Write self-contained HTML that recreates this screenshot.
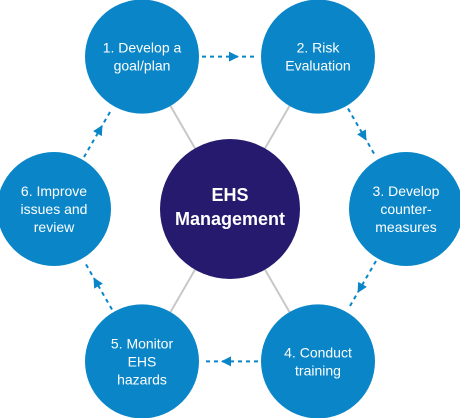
<!DOCTYPE html>
<html><head><meta charset="utf-8"><style>
body{margin:0;background:#fff;}
svg{display:block;font-family:"Liberation Sans",sans-serif;}
</style></head><body>
<svg width="460" height="418" viewBox="0 0 460 418">
<g id="spokes"></g>
<g id="arrows"></g>
<g id="nodes"></g>
<circle cx="230" cy="209" r="70" fill="#261a6e"/>
<text x="230" y="201" fill="#fff" font-size="18" font-weight="bold" text-anchor="middle">EHS</text>
<text x="230" y="225" fill="#fff" font-size="18" font-weight="bold" text-anchor="middle">Management</text>
</svg>
<script>
const steps=[["1. Develop a","goal/plan"],["2. Risk","Evaluation"],["3. Develop","counter-","measures"],["4. Conduct","training"],["5. Monitor","EHS","hazards"],["6. Improve","issues and","review"]];
const angles=[-120,-60,0,60,120,180];
const NS="http://www.w3.org/2000/svg";
const cx=230,cy=209,D=176,R=57;
const pos=angles.map(a=>[cx+D*Math.cos(a*Math.PI/180),cy+D*Math.sin(a*Math.PI/180)]);
function mk(t,at,parent){const e=document.createElementNS(NS,t);for(const k in at)e.setAttribute(k,at[k]);document.getElementById(parent).appendChild(e);return e;}
pos.forEach((p,i)=>{
  if(angles[i]!==0&&angles[i]!==180){
    const l=mk('line',{x1:cx,y1:cy,x2:p[0],y2:p[1],stroke:'#c8c8c8','stroke-width':2},'spokes');
    
    
  }
  const q=pos[(i+1)%6];
  const dx=q[0]-p[0],dy=q[1]-p[1],L=Math.hypot(dx,dy),ux=dx/L,uy=dy/L;
  const a=[p[0]+ux*(R+3),p[1]+uy*(R+3)],b=[q[0]-ux*(R+3),q[1]-uy*(R+3)];
  const dl=mk('line',{x1:a[0],y1:a[1],x2:b[0],y2:b[1],stroke:'#0a86c8','stroke-width':2,'stroke-dasharray':'4 4'},'arrows');
  
  
  const m=[(a[0]+b[0])/2+ux*4,(a[1]+b[1])/2+uy*4];
  const px=-uy,py=ux;
  const tri=mk('polygon',{points:`${m[0]+ux*5},${m[1]+uy*5} ${m[0]-ux*5+px*5},${m[1]-uy*5+py*5} ${m[0]-ux*5-px*5},${m[1]-uy*5-py*5}`,fill:'#0a86c8'},'arrows');
  
  
});
pos.forEach((p,i)=>{
  const c=mk('circle',{cx:p[0],cy:p[1],r:R,fill:'#0a86c8'},'nodes');
  
  
  const lines=steps[i],lh=18,y0=p[1]-(lines.length-1)*lh/2+5;
  lines.forEach((s,j)=>{
    const t=mk('text',{x:p[0],y:y0+j*lh,fill:'#fff','font-size':14,'text-anchor':'middle'},'nodes');
    t.textContent=s;
    
    
  });
});
</script>
</body></html>
